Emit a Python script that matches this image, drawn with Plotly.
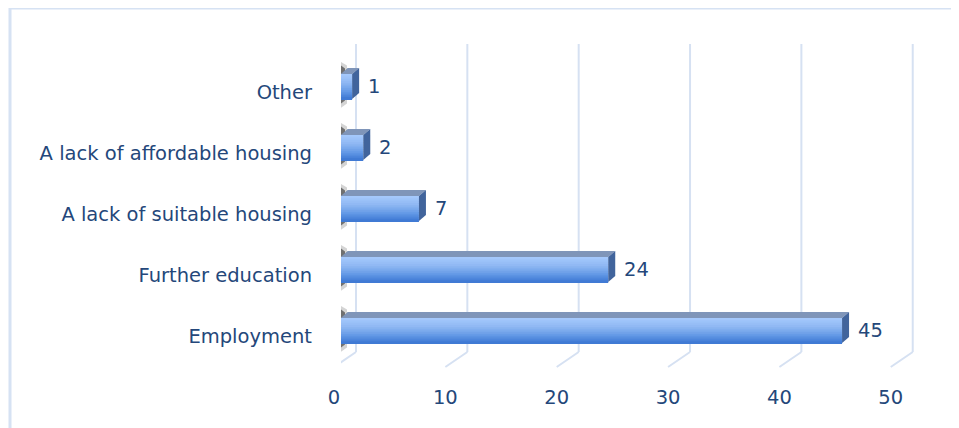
import plotly.graph_objects as go

categories = ["Employment", "Further education", "A lack of suitable housing",
              "A lack of affordable housing", "Other"]
values = [45, 24, 7, 2, 1]
x_ticks = [0, 10, 20, 30, 40, 50]

TEXT = "#24477a"
GRID = "#d6e1f2"
FONT = "DejaVu Sans"
FS = 19.5

ypos = list(range(len(categories)))
half = 0.205  # half thickness of bar front face (category units)

fig = go.Figure()

def hexmix(c1, c2, t):
    a = [int(c1[i:i+2], 16) for i in (1, 3, 5)]
    b = [int(c2[i:i+2], 16) for i in (1, 3, 5)]
    return "#" + "".join(f"{round(a[k] + (b[k]-a[k])*t):02x}" for k in range(3))

stops = [(0.0, "#a6cafd"), (0.35, "#8fb8f3"), (0.7, "#6399e6"), (1.0, "#3b76d2")]
def grad(t):
    for (t0, c0), (t1, c1) in zip(stops[:-1], stops[1:]):
        if t <= t1:
            return hexmix(c0, c1, (t - t0) / (t1 - t0))
    return stops[-1][1]

N = 14
sw = 2 * half / N
for i in range(N):
    t = (i + 0.5) / N
    fig.add_trace(go.Bar(
        y=ypos, x=values, orientation="h",
        offset=half - (i + 1) * sw, width=sw * 1.02,
        marker=dict(color=grad(t), line=dict(width=0)),
        hoverinfo="skip", showlegend=False))

shapes = []
for v in x_ticks:
    shapes.append(dict(type="line", xref="x", yref="paper", xsizemode="pixel", ysizemode="pixel",
                       xanchor=v, yanchor=0, x0=15, x1=15, y0=9, y1=317,
                       line=dict(color=GRID, width=2), layer="below"))
    shapes.append(dict(type="line", xref="x", yref="paper", xsizemode="pixel", ysizemode="pixel",
                       xanchor=v, yanchor=0, x0=15, x1=-7, y0=9, y1=-6,
                       line=dict(color=GRID, width=2), layer="below"))
shapes.append(dict(type="line", xref="x", yref="paper", xsizemode="pixel", ysizemode="pixel",
                   xanchor=x_ticks[0], yanchor=0, x0=-7, x1=-7, y0=-6, y1=301,
                   line=dict(color=GRID, width=2), layer="below"))

for yc, v in zip(ypos, values):
    # soft shadow on the left wall
    shapes.append(dict(type="path", xref="x", yref="y", xsizemode="pixel", ysizemode="pixel",
                       xanchor=0, yanchor=yc,
                       path="M -1,-22 L 6,-17 L 6,21 L -1,25 Z",
                       fillcolor="rgba(60,60,60,0.22)", line=dict(width=0), layer="below"))
    shapes.append(dict(type="path", xref="x", yref="y", xsizemode="pixel", ysizemode="pixel",
                       xanchor=0, yanchor=yc,
                       path="M 0,-17 L 4,-14 L 4,18 L 0,21 Z",
                       fillcolor="rgba(30,30,30,0.55)", line=dict(width=0), layer="below"))
    # top face
    shapes.append(dict(type="path", xref="x", yref="y", xsizemode="pixel", ysizemode="pixel",
                       xanchor=0, yanchor=yc + half,
                       path="M 0,0 L 7,6 L 8,6 L 1,0 Z",
                       fillcolor="#7f95b9", line=dict(width=0)))
    shapes.append(dict(type="path", xref="x", yref="y", ysizemode="pixel",
                       yanchor=yc + half,
                       path=f"M 0,0 L {v},0 L {v + 0.63},6 L 0.63,6 Z",
                       fillcolor="#7f95b9", line=dict(width=0)))
    # side face
    shapes.append(dict(type="path", xref="x", yref="y", xsizemode="pixel", ysizemode="pixel",
                       xanchor=v, yanchor=yc,
                       path="M 0,-12.5 L 0,12.5 L 7,18.5 L 7,-6.5 Z",
                       fillcolor="#41649c", line=dict(width=0)))

# outer frame (left and top edges)
shapes.append(dict(type="line", xref="paper", yref="paper", xsizemode="pixel", ysizemode="pixel",
                   xanchor=0, yanchor=1, x0=-331, x1=-331, y0=48, y1=-420,
                   line=dict(color="#d6e2f3", width=3)))
shapes.append(dict(type="line", xref="paper", yref="paper", xsizemode="pixel", ysizemode="pixel",
                   xanchor=0, yanchor=1, x0=-332, x1=700, y0=48, y1=48,
                   line=dict(color="#d6e2f3", width=3)))

annotations = [dict(x=v, y=yc, xref="x", yref="y", text=str(v), showarrow=False,
                    xanchor="left", yanchor="middle", xshift=14,
                    font=dict(family=FONT, size=FS, color=TEXT))
               for yc, v in zip(ypos, values)]

fig.update_layout(
    width=959, height=428,
    margin=dict(l=333, r=47, t=48, b=75),
    paper_bgcolor="white", plot_bgcolor="white",
    barmode="overlay",
    shapes=shapes, annotations=annotations,
    xaxis=dict(range=[0, 52], tickvals=x_ticks, ticktext=[str(t) for t in x_ticks],
               showgrid=False, zeroline=False, showline=False, ticks="",
               ticklabelshift=-7, ticklabelstandoff=22,
               tickfont=dict(family=FONT, size=FS, color=TEXT), fixedrange=True),
    yaxis=dict(range=[-0.5, 4.5], tickvals=ypos, ticktext=categories,
               showgrid=False, zeroline=False, showline=False, ticks="",
               ticklabelstandoff=28, ticklabelshift=6,
               tickfont=dict(family=FONT, size=FS, color=TEXT), fixedrange=True),
)

fig.write_html("out.html")
